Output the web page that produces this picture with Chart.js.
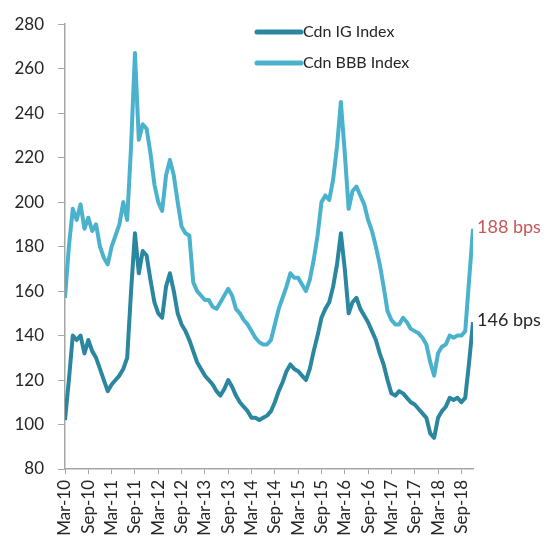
<!DOCTYPE html>
<html>
<head>
<meta charset="utf-8">
<script src="https://cdn.jsdelivr.net/npm/chart.js@4"></script>
<style>
  html, body { margin: 0; padding: 0; background: #fff; }
  #wrap { width: 549px; height: 545px; }
</style>
</head>
<body>
<div id="wrap"><canvas id="spreadChart" width="549" height="545"></canvas></div>
<script>
// monthly spread levels (bps), starting Mar-2010
const igIndex = [
  102, 120, 140, 138, 140, 132, 138, 133, 130, 125, 120, 115,
  118, 120, 122, 125, 130, 160, 186, 168, 178, 176, 165, 155,
  150, 148, 162, 168, 160, 150, 145, 142, 138, 133, 128, 125,
  122, 120, 118, 115, 113, 116, 120, 117, 113, 110, 108, 106,
  103, 103, 102, 103, 104, 106, 110, 115, 119, 124, 127, 125,
  124, 122, 120, 125, 133, 140, 148, 152, 155, 162, 172, 186,
  170, 150, 155, 157, 152, 149, 146, 142, 138, 132, 127, 120,
  114, 113, 115, 114, 112, 110, 109, 107, 105, 103, 96, 94,
  103, 106, 108, 112, 111, 112, 110, 112, 128, 146
];
const bbbIndex = [
  157, 180, 197, 192, 199, 188, 193, 187, 190, 180, 175, 172,
  180, 185, 190, 200, 192, 225, 267, 228, 235, 233, 222, 208,
  200, 196, 212, 219, 212, 200, 189, 186, 185, 164, 160, 158,
  156, 156, 153, 152, 155, 158, 161, 158, 152, 150, 147, 145,
  142, 139, 137, 136, 136, 138, 145, 152, 157, 162, 168, 166,
  166, 163, 160, 165, 174, 185, 200, 203, 201, 210, 225, 245,
  222, 197, 205, 207, 203, 199, 192, 187, 180, 172, 162, 151,
  147, 145, 145, 148, 146, 143, 142, 141, 139, 136, 128, 122,
  132, 135, 136, 140, 139, 140, 140, 142, 165, 188
];
const tickLabels = [
  "Mar-10", "Sep-10", "Mar-11", "Sep-11", "Mar-12", "Sep-12",
  "Mar-13", "Sep-13", "Mar-14", "Sep-14", "Mar-15", "Sep-15",
  "Mar-16", "Sep-16", "Mar-17", "Sep-17", "Mar-18", "Sep-18"
];
const seriesNames = ["Cdn IG Index", "Cdn BBB Index"];
const seriesColors = ["#2b87a0", "#4ab2cd"];
const endLabelColors = ["#262626", "#c9575a"];

const FONT = "Lato, 'Open Sans', sans-serif";

// legend in the upper middle plus "xxx bps" tags at each line's last point
const overlayPlugin = {
  id: "overlay",
  afterDatasetsDraw(chart) {
    const ctx = chart.ctx;
    const xs = chart.scales.x;
    const ys = chart.scales.y;
    ctx.save();
    ctx.textBaseline = "middle";
    ctx.textAlign = "left";
    ctx.font = "16px " + FONT;
    chart.data.datasets.forEach((ds, i) => {
      const y = 32 + i * 31;
      ctx.strokeStyle = ds.borderColor;
      ctx.lineWidth = 5;
      ctx.lineCap = "round";
      ctx.beginPath();
      ctx.moveTo(257, y);
      ctx.lineTo(301, y);
      ctx.stroke();
      ctx.fillStyle = "#262626";
      ctx.fillText(ds.label, 303, y);
    });
    ctx.font = "18px " + FONT;
    chart.data.datasets.forEach((ds, i) => {
      const last = ds.data[ds.data.length - 1];
      ctx.fillStyle = endLabelColors[i];
      ctx.fillText(last.y + " bps", xs.getPixelForValue(last.x) + 4, ys.getPixelForValue(last.y) - 2);
    });
    ctx.restore();
  }
};

new Chart(document.getElementById("spreadChart"), {
  type: "line",
  data: {
    datasets: [igIndex, bbbIndex].map((vals, i) => ({
      label: seriesNames[i],
      data: vals.map((v, m) => ({ x: m, y: v })),
      borderColor: seriesColors[i],
      backgroundColor: seriesColors[i],
      borderWidth: 4,
      pointRadius: 0,
      tension: 0,
      borderJoinStyle: "round"
    }))
  },
  options: {
    responsive: false,
    animation: false,
    layout: { padding: { top: 19, right: 76, left: 0, bottom: 0 } },
    plugins: {
      legend: { display: false },
      tooltip: { enabled: false }
    },
    scales: {
      x: {
        type: "linear",
        min: 0,
        max: 105,
        afterBuildTicks(scale) {
          scale.ticks = tickLabels.map((t, k) => ({ value: k * 6 }));
        },
        afterFit(scale) { scale.height = 76; },
        ticks: {
          minRotation: 90,
          maxRotation: 90,
          autoSkip: false,
          padding: 6,
          color: "#262626",
          font: { family: FONT, size: 17 },
          callback: (v) => tickLabels[Math.round(v / 6)]
        },
        grid: { drawOnChartArea: false, drawTicks: true, tickLength: 5, color: "#a6a6a6" },
        border: { color: "#a6a6a6", width: 1.5 }
      },
      y: {
        min: 80,
        max: 280,
        afterFit(scale) { scale.width = 65; },
        ticks: {
          stepSize: 20,
          padding: 14,
          color: "#262626",
          font: { family: FONT, size: 17 }
        },
        grid: { drawOnChartArea: false, drawTicks: true, tickLength: 7, color: "#a6a6a6" },
        border: { color: "#a6a6a6", width: 1.5 }
      }
    }
  },
  plugins: [overlayPlugin]
});
</script>
</body>
</html>
